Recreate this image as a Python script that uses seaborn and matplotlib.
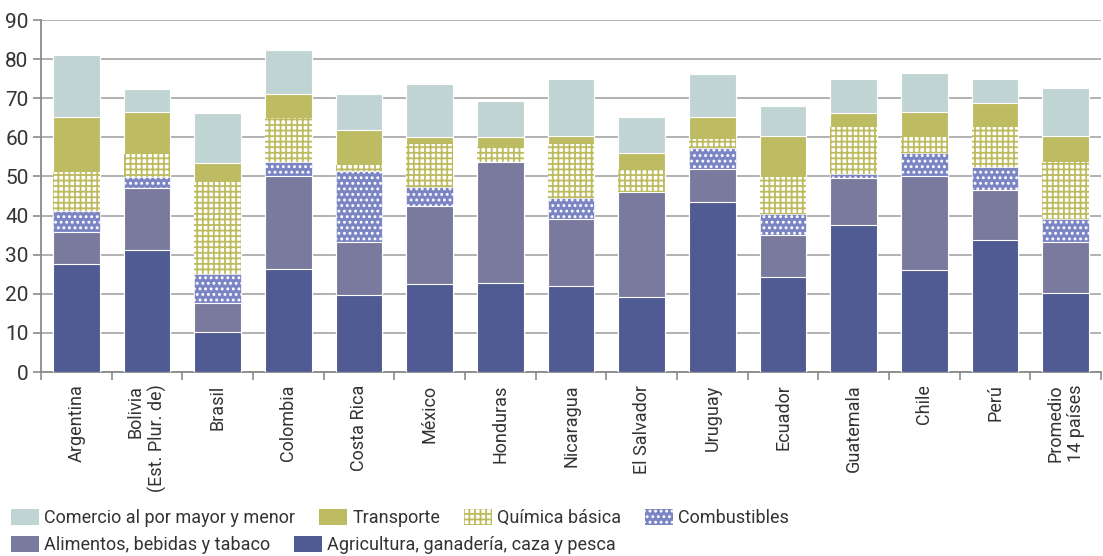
import numpy as np
import pandas as pd
import matplotlib
matplotlib.use("Agg")
import matplotlib.pyplot as plt
from matplotlib.patches import Patch
import seaborn as sns

countries = ["Argentina", "Bolivia\n(Est. Plur. de)", "Brasil", "Colombia", "Costa Rica",
             "México", "Honduras", "Nicaragua", "El Salvador", "Uruguay", "Ecuador",
             "Guatemala", "Chile", "Perú", "Promedio\n14 países"]

agricultura = [27.5, 31.1, 10.1, 26.3, 19.7, 22.6, 22.8, 22.1, 19.1, 43.4, 24.4, 37.5, 26.0, 33.8, 20.3]
alimentos = [8.2, 15.9, 7.5, 23.8, 13.6, 19.9, 31.0, 17.0, 26.9, 8.4, 10.6, 12.0, 24.1, 12.8, 12.9]
combustibles = [5.5, 2.8, 7.5, 3.5, 18.1, 4.9, 0.0, 5.5, 0.0, 5.6, 5.5, 1.1, 5.9, 5.7, 5.9]
quimica = [9.9, 5.9, 23.6, 11.3, 1.5, 10.8, 3.7, 13.7, 5.7, 2.3, 9.4, 12.1, 4.4, 10.3, 14.7]
transporte = [14.2, 10.9, 4.8, 6.2, 9.1, 1.9, 2.6, 2.1, 4.3, 5.6, 10.5, 3.6, 6.2, 6.3, 6.6]
comercio = [15.8, 5.7, 12.6, 11.3, 9.1, 13.6, 9.3, 14.5, 9.1, 10.8, 7.6, 8.6, 9.9, 6.0, 12.1]

series_names = ["Agricultura, ganadería, caza y pesca", "Alimentos, bebidas y tabaco",
                "Combustibles", "Química básica", "Transporte", "Comercio al por mayor y menor"]
yticks = [0, 10, 20, 30, 40, 50, 60, 70, 80, 90]

C_AGRI = "#4F5B92"
C_ALIM = "#7A7A9F"
C_COMB = "#7B85C4"
C_QUIM = "#BDBB5E"
C_TRANS = "#BEBC63"
C_COM = "#C1D4D4"
GRID = "#ABABAB"
SPINE = "#8A8A8A"

sns.set_style("white")
plt.rcParams["font.family"] = ["Roboto", "DejaVu Sans"]
plt.rcParams["hatch.linewidth"] = 1.3
plt.rcParams["text.color"] = "#333333"

df = pd.DataFrame({"pais": countries, "agri": agricultura, "alim": alimentos,
                   "comb": combustibles, "quim": quimica, "trans": transporte, "com": comercio})
layers = ["agri", "alim", "comb", "quim", "trans", "com"]
cum = df[layers].cumsum(axis=1)
for c in layers:
    df["cum_" + c] = cum[c]

fig = plt.figure(figsize=(11.03, 5.56), dpi=100)
ax = fig.add_axes([41 / 1103, 1 - 372 / 556, 1060 / 1103, 352 / 556])

styles = {
    "com": dict(color=C_COM, edgecolor="white", linewidth=0.8),
    "trans": dict(color=C_TRANS, edgecolor="white", linewidth=0.8),
    "quim": dict(color="white", edgecolor=C_QUIM, linewidth=0, hatch="+++"),
    "comb": dict(color=C_COMB, edgecolor="white", linewidth=0.5, hatch="..."),
    "alim": dict(color=C_ALIM, edgecolor="white", linewidth=0.8),
    "agri": dict(color=C_AGRI, edgecolor="white", linewidth=0.8),
}
for c in reversed(layers):
    st = dict(styles[c])
    color = st.pop("color")
    sns.barplot(data=df, x="pais", y="cum_" + c, color=color, saturation=1,
                width=0.66, errorbar=None, ax=ax, zorder=3, **st)

ax.set_ylim(0, 90)
ax.set_xlim(-0.5, len(countries) - 0.5)
ax.set_yticks(yticks)
ax.set_yticklabels([str(v) for v in yticks], fontsize=15, color="#333333")
ax.yaxis.grid(True, color=GRID, linewidth=1.3, zorder=0)
ax.set_axisbelow(True)
ax.set_xlabel("")
ax.set_ylabel("")

ax.set_xticks(range(len(countries)))
ax.set_xticklabels(countries, rotation=90, ha="center", va="top",
                   multialignment="right", fontsize=13, color="#333333")
ax.set_xticks(np.arange(-0.5, len(countries), 1), minor=True)
ax.tick_params(axis="x", which="major", length=0, pad=9)
ax.tick_params(axis="x", which="minor", length=6, width=1.2, color=SPINE, direction="out", bottom=True)
ax.tick_params(axis="y", which="major", length=6, width=1.2, color=SPINE, pad=3, left=True)

for s in ["top", "right"]:
    ax.spines[s].set_visible(False)
for s in ["left", "bottom"]:
    ax.spines[s].set_color(SPINE)
    ax.spines[s].set_linewidth(1.3)

def mk(name, color, edge="none", hatch=None):
    return Patch(facecolor=color, edgecolor=edge, hatch=hatch, linewidth=0, label=name)

row1 = [mk(series_names[5], C_COM), mk(series_names[4], C_TRANS),
        mk(series_names[3], "white", C_QUIM, "+++"), mk(series_names[2], C_COMB, "white", "...")]
row2 = [mk(series_names[1], C_ALIM), mk(series_names[0], C_AGRI)]

leg_kw = dict(frameon=False, fontsize=13, handlelength=1.55, handleheight=0.95,
              handletextpad=0.3, columnspacing=1.3, borderpad=0, borderaxespad=0,
              loc="center left")
leg1 = fig.legend(handles=row1, ncol=4, bbox_to_anchor=(11 / 1103, 1 - 518 / 556), **leg_kw)
leg2 = fig.legend(handles=row2, ncol=2, bbox_to_anchor=(11 / 1103, 1 - 545 / 556), **leg_kw)

fig.savefig("out.png", dpi=100)
